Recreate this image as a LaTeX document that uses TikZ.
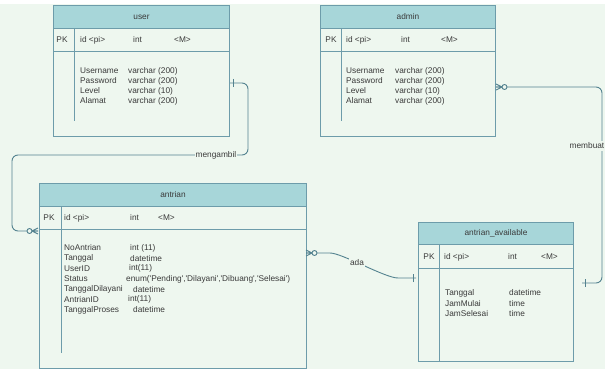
\documentclass[tikz,border=0pt]{standalone}
\usepackage{fontspec}
\setmainfont{Liberation Sans}
\usetikzlibrary{positioning, calc}
\definecolor{erbg}{HTML}{EEF7EF}
\definecolor{erhead}{HTML}{A7D6D9}
\definecolor{erborder}{HTML}{6D9CAA}
\definecolor{erline}{HTML}{53828F}
\definecolor{ertext}{HTML}{3A3A3A}

\tikzset{
  tablebox/.style={draw=erborder, fill=erbg, line width=1pt, inner sep=0pt},
  headbox/.style={tablebox, fill=erhead, font=\fontsize{8.3}{10}\selectfont, text=ertext},
  rowline/.style={draw=erborder, line width=1pt},
  celltext/.style={font=\fontsize{8.3}{10}\selectfont, text=ertext, inner sep=0pt, anchor=west},
  keytext/.style={celltext, anchor=center},
  relation/.style={draw=erline, line width=0.9pt},
  rellabel/.style={keytext, fill=erbg, inner xsep=1pt, inner ysep=1.5pt},
  pics/onemark/.style={code={\draw[relation] (3,-4) -- (3,4);}},
  pics/zeromany/.style={code={
    \draw[relation] (0,-3) -- (6,0) -- (0,3) (0,0) -- (6,0);
    \draw[relation, fill=erbg] (8.5,0) circle (2.5pt);}}
}

\begin{document}
\begin{tikzpicture}[x=1pt, y=-1pt]
  \useasboundingbox (0,0) rectangle (605,369);
  \fill[erbg] (0,4) rectangle (605,369);

  % user
  \node[tablebox, minimum width=176pt, minimum height=131pt, anchor=north west] (user) at (53,5) {};
  \node[headbox, minimum width=176pt, minimum height=23pt, anchor=north west] (user-head) at (53,5) {user};
  \draw[rowline] (53,52) -- (229,52);
  \draw[rowline] (74,28) -- (74,121);
  \node[keytext] (user-pk) at (62,40) {PK};
  \node[celltext] (user-id) at (80,40) {id <pi>};
  \node[celltext] (user-int) at (133,40) {int};
  \node[celltext] (user-m) at (174,40) {<M>};
  \foreach \n/\t [count=\i] in {Username/varchar (200), Password/varchar (200), Level/varchar (10), Alamat/varchar (200)} {
    \node[celltext] (user-n\i) at (80,61+10*\i) {\n};
    \node[celltext] (user-t\i) at (128,61+10*\i) {\t};
  }

  % admin
  \node[tablebox, minimum width=175pt, minimum height=131pt, anchor=north west] (admin) at (320,5) {};
  \node[headbox, minimum width=175pt, minimum height=23pt, anchor=north west] (admin-head) at (320,5) {admin};
  \draw[rowline] (320,52) -- (495,52);
  \draw[rowline] (341,28) -- (341,121);
  \node[keytext] (admin-pk) at (331,40) {PK};
  \node[celltext] (admin-id) at (346,40) {id <pi>};
  \node[celltext] (admin-int) at (401,40) {int};
  \node[celltext] (admin-m) at (441,40) {<M>};
  \foreach \n/\t [count=\i] in {Username/varchar (200), Password/varchar (200), Level/varchar (10), Alamat/varchar (200)} {
    \node[celltext] (admin-n\i) at (346,61+10*\i) {\n};
    \node[celltext] (admin-t\i) at (395,61+10*\i) {\t};
  }

  % antrian
  \node[tablebox, minimum width=267pt, minimum height=185pt, anchor=north west] (antrian) at (39,183) {};
  \node[headbox, minimum width=267pt, minimum height=23pt, anchor=north west] (antrian-head) at (39,183) {antrian};
  \draw[rowline] (39,229) -- (306,229);
  \draw[rowline] (61,206) -- (61,353);
  \node[keytext] (antrian-pk) at (49,218) {PK};
  \node[celltext] (antrian-id) at (64,218) {id <pi>};
  \node[celltext] (antrian-int) at (130,218) {int};
  \node[celltext] (antrian-m) at (158,218) {<M>};
  \foreach \n/\t/\tx [count=\i] in {NoAntrian/int (11)/130, Tanggal/datetime/130, UserID/int(11)/129,
      Status/{enum(\textquotesingle Pending\textquotesingle,\textquotesingle Dilayani\textquotesingle,\textquotesingle Dibuang\textquotesingle,\textquotesingle Selesai\textquotesingle)}/126,
      TanggalDilayani/datetime/133, AntrianID/int(11)/128, TanggalProses/datetime/133} {
    \node[celltext] (antrian-n\i) at (64,237.7+10.33*\i) {\n};
    \node[celltext] (antrian-t\i) at (\tx,237.7+10.33*\i) {\t};
  }

  % antrian_available
  \node[tablebox, minimum width=155pt, minimum height=139pt, anchor=north west] (avail) at (418,222) {};
  \node[headbox, minimum width=155pt, minimum height=22pt, anchor=north west] (avail-head) at (418,222) {antrian\_available};
  \draw[rowline] (418,268) -- (573,268);
  \draw[rowline] (439,244) -- (439,361);
  \node[keytext] (avail-pk) at (429,257) {PK};
  \node[celltext] (avail-id) at (444,257) {id <pi>};
  \node[celltext] (avail-int) at (508,257) {int};
  \node[celltext] (avail-m) at (541,257) {<M>};
  \foreach \n/\t [count=\i] in {Tanggal/datetime, JamMulai/time, JamSelesai/time} {
    \node[celltext] (avail-n\i) at (445,282.5+10.5*\i) {\n};
    \node[celltext] (avail-t\i) at (509,282.5+10.5*\i) {\t};
  }

  % relations
  \coordinate (user-out) at (230,83);
  \coordinate (antrian-in) at (38,231);
  \draw[relation, rounded corners=6pt] (user-out) -| (248,155) -| (12,231) -- (antrian-in);
  \node[rellabel] (mengambil) at (216,155) {mengambil};
  \path (user-out) pic {onemark};
  \path (antrian-in) pic[rotate=180] {zeromany};

  \coordinate (admin-out) at (496,87);
  \coordinate (avail-right) at (582,283);
  \draw[relation, rounded corners=6pt] (admin-out) -| (602,283) -- (avail-right);
  \node[rellabel] (membuat) at (587,146) {membuat};
  \path (admin-out) pic {zeromany};
  \path (avail-right) pic {onemark};

  \coordinate (antrian-out) at (306,253);
  \coordinate (avail-left) at (416,278);
  \draw[relation] (antrian-out) -- (330,253) .. controls (342,253) and (385,278) .. (398,278) -- (avail-left);
  \node[rellabel] (ada) at (357,263) {ada};
  \path (antrian-out) pic {zeromany};
  \path (avail-left) pic[rotate=180] {onemark};
\end{tikzpicture}
\end{document}
